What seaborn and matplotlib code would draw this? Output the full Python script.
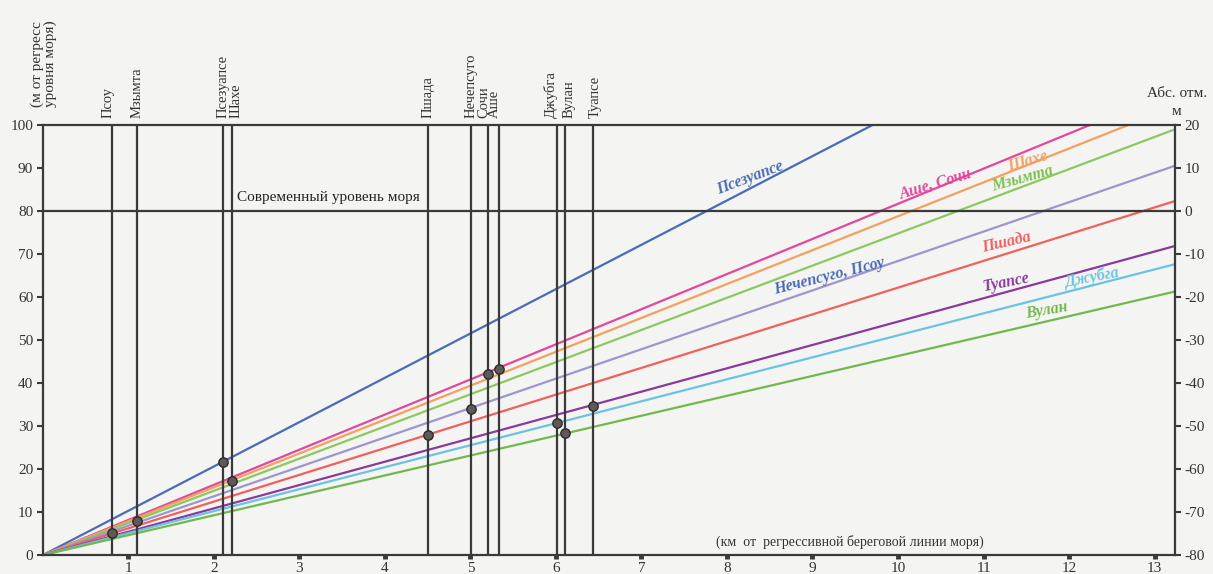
import numpy as np
import pandas as pd
import matplotlib
matplotlib.use("Agg")
import matplotlib.pyplot as plt
import seaborn as sns

# Stations: distance from the regressive shoreline (km) and terrace height (m)
stations = ["Псоу", "Мзымта", "Псезуапсе", "Шахе", "Пшада", "Нечепсуго",
            "Сочи", "Аше", "Джубга", "Вулан", "Туапсе"]
station_km = [0.81, 1.10, 2.11, 2.21, 4.50, 5.01, 5.20, 5.33, 6.01, 6.11, 6.43]
station_m = [5.2, 7.9, 21.7, 17.2, 28.0, 33.9, 42.2, 43.2, 30.7, 28.3, 34.6]
# horizontal nudge (points) for crowded station names
station_nudge = [-3, 0, 0, 3, 0, 0, -3, -3, -4, 3, 2]

# Gradient lines (m per km) drawn from the origin
line_names = ["Псезуапсе", "Аше, Сочи", "Шахе", "Мзымта", "Нечепсуго, Псоу",
              "Пшада", "Туапсе", "Джубга", "Вулан"]
line_slope = [10.31, 8.17, 7.88, 7.48, 6.84, 6.22, 5.43, 5.11, 4.63]
line_color = ["#4a6bb5", "#e2489c", "#f3a060", "#8cc860", "#9c96cc",
              "#f0605c", "#8a3a9c", "#6cc2e2", "#72b84e"]
label_color = ["#4a6bb5", "#e2489c", "#f3a060", "#7cc050", "#4a6bb5",
               "#f0605c", "#8a3a9c", "#6cc2e2", "#72b84e"]
label_pos = [(8.27, 87.6), (10.44, 86.2), (11.52, 91.6), (11.46, 87.6),
             (9.20, 64.9), (11.27, 72.6), (11.27, 63.5), (12.27, 64.4),
             (11.74, 56.9)]

x_ticks = list(range(1, 14))
left_ticks = list(range(0, 101, 10))
right_ticks = list(range(-80, 21, 10))
sea_level = 80

X_MAX = 13.24
BG = "#f4f4f2"
INK = "#3a3a3a"

sns.set_theme(style="white")
plt.rcParams["font.family"] = ["Liberation Serif", "DejaVu Serif"]

fig = plt.figure(figsize=(12.13, 5.74), dpi=100, facecolor=BG)
ax = fig.add_axes([0.0354, 0.033, 0.9333, 0.749])
ax.set_facecolor(BG)

# Long-format table of the gradient lines
xs = np.array([0.0, X_MAX])
rows = []
for name, s in zip(line_names, line_slope):
    for xv in xs:
        rows.append({"line": name, "km": xv, "m": s * xv})
df_lines = pd.DataFrame(rows)
palette = dict(zip(line_names, line_color))
sns.lineplot(data=df_lines, x="km", y="m", hue="line", palette=palette,
             legend=False, linewidth=1.6, ax=ax, zorder=2)

# Station verticals
ax.vlines(station_km, 0, 100, colors=INK, linewidth=1.6, zorder=3)
# Present sea level
ax.axhline(sea_level, color=INK, linewidth=1.6, zorder=3)
ax.text(2.27, sea_level + 1.6, "Современный уровень моря", fontsize=11,
        color="#222222", va="bottom", ha="left")

# Station points
df_pts = pd.DataFrame({"station": stations, "km": station_km, "m": station_m})
sns.scatterplot(data=df_pts, x="km", y="m", s=45, color="#5e5a5a",
                edgecolor="#2e2a2a", linewidth=1.0, ax=ax, zorder=5)

# Station names on top
for name, xv, dx in zip(stations, station_km, station_nudge):
    ax.annotate(name, xy=(xv, 100), xytext=(dx, 5), textcoords="offset points",
                rotation=90, ha="center", va="bottom", fontsize=10.5,
                color="#333333", annotation_clip=False)

# Line labels along their lines
for name, s, c, (lx, ly) in zip(line_names, line_slope, label_color, label_pos):
    ang = ax.transData.transform_angles(np.array([np.degrees(np.arctan(s))]),
                                        np.array([[lx, ly]]))[0]
    ax.text(lx, ly, name, rotation=ang, rotation_mode="anchor", ha="center",
            va="center", fontsize=11.5, color=c, style="italic",
            fontweight="bold")

ax.set_xlim(0, X_MAX)
ax.set_ylim(0, 100)
ax.set_xticks(x_ticks)
ax.set_xticklabels([str(t) for t in x_ticks])
ax.set_yticks(left_ticks)
ax.set_xlabel("")
ax.set_ylabel("")
ax.tick_params(axis="y", direction="out", length=4, width=1.5, color=INK,
               labelsize=11, labelcolor="#333333", pad=3, left=True)
ax.tick_params(axis="x", direction="out", length=3, width=3.5, color=INK,
               labelsize=11, labelcolor="#333333", pad=2, bottom=True)
for side in ["left", "right", "top", "bottom"]:
    ax.spines[side].set_color(INK)
    ax.spines[side].set_linewidth(1.6)
    ax.spines[side].set_visible(True)

ax.text(9.44, 1.5, "(км  от  регрессивной береговой линии моря)",
        fontsize=10, ha="center", va="bottom", color="#333333")

# Absolute elevation axis
ax2 = ax.twinx()
ax2.set_ylim(0 - sea_level, 100 - sea_level)
ax2.set_yticks(right_ticks)
ax2.set_yticklabels([str(t) for t in right_ticks])
ax2.tick_params(axis="y", direction="out", length=4, width=1.5, color=INK,
                labelsize=11, labelcolor="#333333", pad=3, right=True)
for side in ["left", "right", "top", "bottom"]:
    ax2.spines[side].set_visible(False)
ax2.grid(False)
ax.grid(False)

fig.text(0.025, 0.965, "(м от регресс\nуровня моря)", rotation=90,
         ha="left", va="top", fontsize=11, color="#333333", linespacing=1.0)
fig.text(0.97, 0.825, "Абс. отм.", ha="center", va="bottom", fontsize=11,
         color="#333333")
fig.text(0.97, 0.795, "м", ha="center", va="bottom", fontsize=11,
         color="#333333")

fig.savefig("out.png", dpi=100, facecolor=BG)
